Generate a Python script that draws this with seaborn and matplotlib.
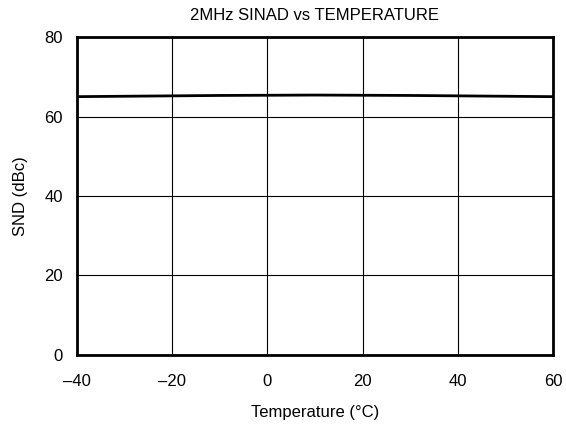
import matplotlib
matplotlib.use("Agg")
import matplotlib.pyplot as plt
import seaborn as sns
import pandas as pd

temperature = [-40, -30, -20, -10, 0, 10, 20, 30, 40, 50, 60]
sinad = [65.0, 65.1, 65.2, 65.3, 65.35, 65.4, 65.35, 65.3, 65.2, 65.1, 65.0]
x_ticks = [-40, -20, 0, 20, 40, 60]
y_ticks = [0, 20, 40, 60, 80]

sns.set_theme(style="white")
plt.rcParams['font.family'] = ['Liberation Sans', 'DejaVu Sans']
plt.rcParams['text.color'] = 'black'
plt.rcParams['axes.labelcolor'] = 'black'

df = pd.DataFrame({"Temperature": temperature, "SINAD": sinad})

fig = plt.figure(figsize=(5.66, 4.26), dpi=100)
ax = fig.add_axes([0.136, 0.167, 0.841, 0.746])
sns.lineplot(data=df, x="Temperature", y="SINAD", ax=ax, color="black", linewidth=2)

ax.set_xlim(-40, 60)
ax.set_ylim(0, 80)
ax.set_xticks(x_ticks)
ax.set_xticklabels([str(t).replace('-', '\u2013') for t in x_ticks])
ax.set_yticks(y_ticks)
ax.grid(True, color="black", linewidth=0.8)
ax.tick_params(length=0, labelsize=12, colors="black")
ax.tick_params(axis="x", pad=14)
ax.tick_params(axis="y", pad=10)
for s in ax.spines.values():
    s.set_linewidth(2)
    s.set_color("black")
ax.set_xlabel("Temperature (°C)", fontsize=12, labelpad=11)
ax.set_ylabel("SND (dBc)", fontsize=12, labelpad=12)
ax.set_title("2MHz SINAD vs TEMPERATURE", fontsize=12, pad=12, color="black")

fig.savefig("out.png", dpi=100)
